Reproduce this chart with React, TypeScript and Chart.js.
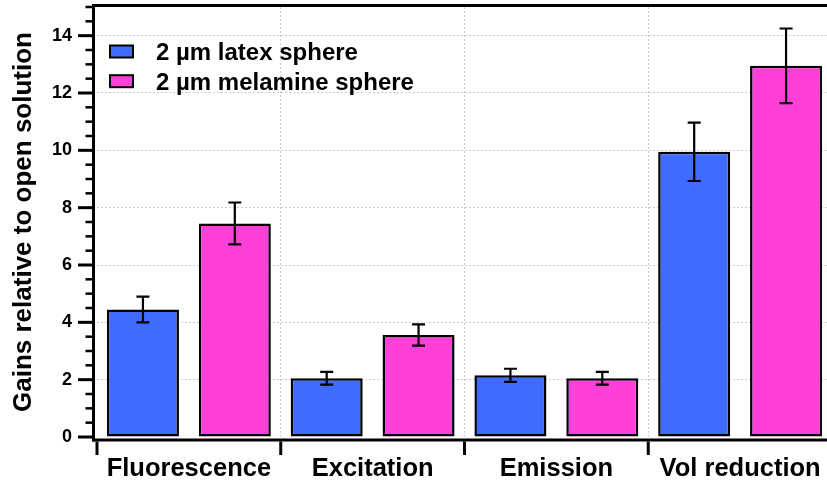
import React, { useEffect, useRef } from 'react';
import { Chart, registerables } from 'chart.js';

Chart.register(...registerables);

const categories = ['Fluorescence', 'Excitation', 'Emission', 'Vol reduction'];
const seriesLabels = ['2 µm latex sphere', '2 µm melamine sphere'];
const latexValues = [4.45, 2.05, 2.15, 9.95];
const latexErrors = [0.45, 0.22, 0.23, 1.02];
const melamineValues = [7.45, 3.56, 2.05, 12.95];
const melamineErrors = [0.73, 0.37, 0.22, 1.3];
const yTickValues = [0, 2, 4, 6, 8, 10, 12, 14];
const yAxisTitle = 'Gains relative to open solution';

const FONT = "'Liberation Sans', Arial, Helvetica, sans-serif";
const BLUE = '#3f6bff';
const MAGENTA = '#ff40d8';
const GRID = '#cdcdcd';
const CLEAR = 'rgba(0,0,0,0)';

const overlayPlugin = {
  id: 'overlay',
  afterDatasetsDraw(chart: any) {
    const ctx = chart.ctx;
    const { left, top, bottom } = chart.chartArea;
    const ys = chart.scales.y;
    const xs = chart.scales.x;
    ctx.save();
    // error bars
    chart.data.datasets.forEach((ds: any, di: number) => {
      const meta = chart.getDatasetMeta(di);
      meta.data.forEach((bar: any, i: number) => {
        const v = ds.data[i];
        const e = ds.errors[i];
        const yHi = ys.getPixelForValue(v + e);
        const yLo = ys.getPixelForValue(v - e);
        ctx.strokeStyle = '#000';
        ctx.lineWidth = 2.2;
        ctx.beginPath();
        ctx.moveTo(bar.x, yHi);
        ctx.lineTo(bar.x, yLo);
        ctx.moveTo(bar.x - 6.5, yHi);
        ctx.lineTo(bar.x + 6.5, yHi);
        ctx.moveTo(bar.x - 6.5, yLo);
        ctx.lineTo(bar.x + 6.5, yLo);
        ctx.stroke();
      });
    });
    const axisX = left - 3.5;
    ctx.strokeStyle = '#000';
    ctx.lineWidth = 3;
    // y axis line
    ctx.beginPath();
    ctx.moveTo(axisX, bottom + 4.5);
    ctx.lineTo(axisX, top - 3);
    ctx.stroke();
    // x axis line
    ctx.beginPath();
    ctx.moveTo(axisX - 1.5, bottom + 3);
    ctx.lineTo(chart.width, bottom + 3);
    ctx.stroke();
    // top frame
    ctx.beginPath();
    ctx.moveTo(axisX - 1.5, top - 1.5);
    ctx.lineTo(chart.width, top - 1.5);
    ctx.stroke();
    // y ticks (major at labelled values, minor every 0.5)
    for (let k = 0; k <= Math.round((ys.max - ys.min) * 2); k++) {
      const v = ys.min + k * 0.5;
      const py = ys.getPixelForValue(v);
      const major = yTickValues.includes(v);
      ctx.lineWidth = major ? 3 : 2.5;
      ctx.beginPath();
      ctx.moveTo(axisX - (major ? 15.5 : 8), py);
      ctx.lineTo(axisX, py);
      ctx.stroke();
    }
    // x category boundary ticks
    const n = categories.length;
    const cw = (xs.right - xs.left) / n;
    ctx.lineWidth = 3;
    for (let i = 0; i <= n; i++) {
      const px = xs.left + i * cw;
      ctx.beginPath();
      ctx.moveTo(px, bottom + 4.5);
      ctx.lineTo(px, bottom + 18);
      ctx.stroke();
    }
    // legend
    ctx.font = `bold 24px ${FONT}`;
    ctx.textAlign = 'left';
    ctx.textBaseline = 'alphabetic';
    chart.data.datasets.forEach((ds: any, di: number) => {
      const by = 45.5 + di * 29.7;
      ctx.fillStyle = ds.backgroundColor;
      ctx.fillRect(110, by, 23, 12);
      ctx.lineWidth = 2;
      ctx.strokeStyle = '#000';
      ctx.strokeRect(110, by, 23, 12);
      ctx.fillStyle = '#000';
      ctx.fillText(ds.label, 156, 60 + di * 29.6);
    });
    ctx.restore();
  },
};

export default function App() {
  const canvasRef = useRef<HTMLCanvasElement | null>(null);

  useEffect(() => {
    if (!canvasRef.current) return;
    const chart = new Chart(canvasRef.current, {
      type: 'bar',
      data: {
        labels: categories,
        datasets: [
          {
            label: seriesLabels[0],
            data: latexValues,
            errors: latexErrors,
            backgroundColor: BLUE,
            borderColor: '#000',
            borderWidth: 2.5,
            borderSkipped: false,
            barPercentage: 0.784,
            categoryPercentage: 1.0,
          } as any,
          {
            label: seriesLabels[1],
            data: melamineValues,
            errors: melamineErrors,
            backgroundColor: MAGENTA,
            borderColor: '#000',
            borderWidth: 2.5,
            borderSkipped: false,
            barPercentage: 0.784,
            categoryPercentage: 1.0,
          } as any,
        ],
      },
      options: {
        responsive: false,
        animation: false,
        devicePixelRatio: 1,
        layout: { padding: { left: 0, right: 8, top: 7, bottom: 0 } },
        plugins: {
          legend: { display: false },
          tooltip: { enabled: false },
        },
        scales: {
          x: {
            afterFit: (s: any) => {
              s.height = 45;
            },
            grid: {
              offset: true,
              drawTicks: true,
              tickLength: 17,
              tickColor: CLEAR,
              lineWidth: 1,
              color: (c: any) => (c.index === 0 ? CLEAR : GRID),
            },
            border: { display: false, dash: [2, 2] },
            ticks: {
              padding: 0,
              color: '#000',
              maxRotation: 0,
              font: { family: FONT, size: 25.5, weight: 'bold', lineHeight: 1.2 },
            },
          },
          y: {
            min: 0,
            max: 15,
            afterFit: (s: any) => {
              s.width = 97;
            },
            afterBuildTicks: (s: any) => {
              s.ticks = yTickValues.map((v) => ({ value: v }));
            },
            grid: {
              drawTicks: true,
              tickLength: 25,
              tickColor: CLEAR,
              lineWidth: 1,
              color: (c: any) => (c.tick && c.tick.value === 0 ? CLEAR : GRID),
            },
            border: { display: false, dash: [2, 2] },
            ticks: {
              padding: 0,
              color: '#000',
              font: { family: FONT, size: 18, weight: 'bold', lineHeight: 0.7 },
            },
            title: {
              display: true,
              text: yAxisTitle,
              color: '#000',
              font: { family: FONT, size: 26, weight: 'bold', lineHeight: 1.2 },
              padding: { top: 8.4, bottom: 0 },
            },
          },
        },
      } as any,
      plugins: [overlayPlugin],
    });
    return () => chart.destroy();
  }, []);

  return (
    <div
      style={{
        position: 'fixed',
        left: 0,
        top: 0,
        width: 827,
        height: 482,
        overflow: 'hidden',
        background: '#fff',
      }}
    >
      <canvas ref={canvasRef} width={840} height={482} style={{ width: 840, height: 482, display: 'block' }} />
    </div>
  );
}
